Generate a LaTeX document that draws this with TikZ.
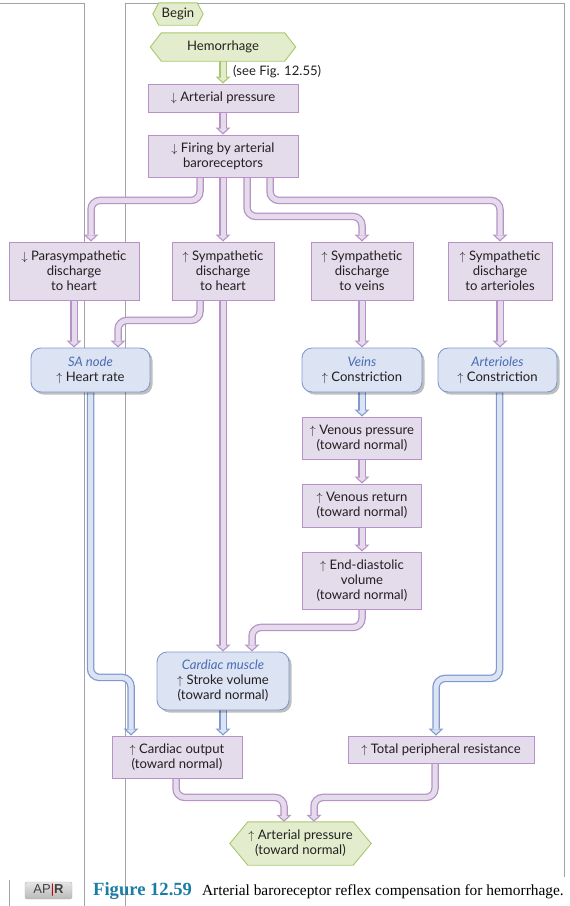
\documentclass[tikz,border=0pt]{standalone}
\usepackage{fontspec}
\setmainfont{Lato}
\newfontfamily\capfont{Liberation Serif}
\newfontfamily\badgefont{Liberation Sans}
\usetikzlibrary{positioning,calc,backgrounds,shadows,arrows.meta}

\definecolor{ink}{HTML}{231F20}
\definecolor{pfill}{HTML}{E4DBEB}
\definecolor{pedge}{HTML}{B891C8}
\definecolor{bfill}{HTML}{DCE3F3}
\definecolor{bedge}{HTML}{7F9AD2}
\definecolor{gfill}{HTML}{E3EDCD}
\definecolor{gedge}{HTML}{A9C76B}
\definecolor{organ}{HTML}{4A6CB4}
\definecolor{framegray}{HTML}{A3A3A3}
\definecolor{figblue}{HTML}{1B7DA6}

\newcommand{\incr}{$\uparrow$\hspace{3.5pt}}
\newcommand{\decr}{$\downarrow$\hspace{3.5pt}}
\newcommand{\organ}[1]{\textcolor{organ}{\itshape #1}}
\newcommand{\flowpipe}[3]{%
  \draw[pipe edge,#1] #3;
  \draw[pipe core,#2] #3;}

\tikzset{
  txt/.style={font=\fontsize{13.1}{15}\selectfont, text=ink, align=center, inner sep=0pt},
  pbox/.style={txt, draw=pedge, fill=pfill, line width=0.9pt},
  bbox/.style={txt, draw=bedge, fill=bfill, line width=0.9pt, rounded corners=10pt,
    drop shadow={shadow xshift=2.5pt, shadow yshift=-2.5pt, opacity=0.25, fill=black}},
  hexline/.style={draw=gedge, fill=gfill, line width=0.9pt},
  frameline/.style={draw=framegray, line width=0.9pt},
  pipe edge/.style={line width=7.5pt, rounded corners=9pt,
    -{Triangle[width=15pt,length=7pt,line width=0pt]}},
  pipe core/.style={line width=5pt, rounded corners=9pt, shorten >=1.7pt,
    -{Triangle[width=9pt,length=4.2pt,line width=0pt]}},
  badge/.style={rounded corners=2pt, top color=gray!20, bottom color=gray!55, draw=gray!60,
    minimum width=47pt, minimum height=17pt, inner sep=0pt, text=ink!85,
    font=\badgefont\fontsize{13}{13}\selectfont}
}

\begin{document}
\begin{tikzpicture}[x=1pt,y=-1pt]
        \useasboundingbox (0,0) rectangle (570,906);
        \node[txt, minimum width=50pt, minimum height=22pt] (begin) at (178,14) {Begin};
        \node[txt, minimum width=145pt, minimum height=28pt] (hem) at (223,47) {Hemorrhage};
        \node[txt, anchor=west] (seefig) at (233,72) {(see Fig. 12.55)};
        \node[pbox, minimum width=150pt, minimum height=28pt] (ap) at (223,98) {\decr Arterial pressure};
        \node[pbox, minimum width=150pt, minimum height=42pt] (fire) at (223,156) {\decr Firing by arterial\\baroreceptors};
        \node[pbox, minimum width=130pt, minimum height=58pt] (para) at (74,271) {\decr Parasympathetic\\discharge\\to heart};
        \node[pbox, minimum width=102pt, minimum height=58pt] (shrt) at (223,271) {\incr Sympathetic\\discharge\\to heart};
        \node[pbox, minimum width=102pt, minimum height=58pt] (sveins) at (362,271) {\incr Sympathetic\\discharge\\to veins};
        \node[pbox, minimum width=104pt, minimum height=58pt] (sart) at (500,271) {\incr Sympathetic\\discharge\\to arterioles};
        \node[bbox, minimum width=119pt, minimum height=44pt] (sa) at (90.5,370) {\organ{SA node}\\\incr Heart rate};
        \node[bbox, minimum width=120pt, minimum height=44pt] (veins) at (362,370) {\organ{Veins}\\\incr Constriction};
        \node[bbox, minimum width=119pt, minimum height=44pt] (arts) at (497.5,370) {\organ{Arterioles}\\\incr Constriction};
        \node[pbox, minimum width=119pt, minimum height=42pt] (vp) at (362,438) {\incr Venous pressure\\(toward normal)};
        \node[pbox, minimum width=119pt, minimum height=43pt] (vr) at (362,505.5) {\incr Venous return\\(toward normal)};
        \node[pbox, minimum width=119pt, minimum height=57pt] (edv) at (362,580.5) {\incr End-diastolic\\volume\\(toward normal)};
        \node[bbox, minimum width=132pt, minimum height=58pt] (cm) at (223,681) {\organ{Cardiac muscle}\\\incr Stroke volume\\(toward normal)};
        \node[pbox, minimum width=130pt, minimum height=42pt] (co) at (177,757) {\incr Cardiac output\\(toward normal)};
        \node[pbox, minimum width=186pt, minimum height=27pt] (tpr) at (441,749.5) {\incr Total peripheral resistance};
        \node[txt, minimum width=141pt, minimum height=43pt] (apn) at (300.5,843.5) {\incr Arterial pressure\\(toward normal)};
        % caption of the page
        \node[badge] (apr) at (48.5,890.5) {AP\textcolor{red!75!black}{|}\textbf{R}};
        \node[anchor=base west, inner sep=0pt, font=\capfont\fontsize{15.4}{18}\selectfont] (cap) at (93,895)
            {\textcolor{figblue}{\fontsize{18.6}{20}\selectfont\bfseries Figure 12.59}\hspace{10pt}Arterial baroreceptor reflex compensation for hemorrhage.};
        \begin{scope}[on background layer]
            \draw[frameline] (0,3) -- (84,3) -- (84,906);
            \draw[frameline] (125,906) -- (125,3) -- (564,3) -- (564,877);
            \draw[frameline] (9,880) -- (9,906);
            % flows
            \flowpipe{gedge}{gfill}{(hem.south) -- (ap.north)}
            \flowpipe{pedge}{pfill}{(ap.south) -- (fire.north)}
            \flowpipe{pedge}{pfill}{($(fire.south)+(-23,0)$) -- ++(0,23) -| ($(para.north)+(17,0)$)}
            \flowpipe{pedge}{pfill}{(fire.south) -- (shrt.north)}
            \flowpipe{pedge}{pfill}{($(fire.south)+(24,0)$) -- ++(0,39) -| (sveins.north)}
            \flowpipe{pedge}{pfill}{($(fire.south)+(47,0)$) -- ++(0,23) -| (sart.north)}
            \flowpipe{pedge}{pfill}{(para.south) -- (para.south |- sa.north)}
            \flowpipe{pedge}{pfill}{($(shrt.south)+(-23,0)$) -- ++(0,20) -| ($(sa.north)+(27.5,0)$)}
            \flowpipe{pedge}{pfill}{(shrt.south) -- (cm.north)}
            \flowpipe{pedge}{pfill}{(sveins.south) -- (veins.north)}
            \flowpipe{pedge}{pfill}{(sart.south) -- (sart.south |- arts.north)}
            \flowpipe{bedge}{bfill}{(veins.south) -- (vp.north)}
            \flowpipe{pedge}{pfill}{(vp.south) -- (vr.north)}
            \flowpipe{pedge}{pfill}{(vr.south) -- (edv.north)}
            \flowpipe{pedge}{pfill}{(edv.south) -- ++(0,18) -| ($(cm.north)+(29,0)$)}
            \flowpipe{bedge}{bfill}{(sa.south) -- ++(0,285) -| ($(co.north)+(-46,0)$)}
            \flowpipe{bedge}{bfill}{(cm.south) -- (cm.south |- co.north)}
            \flowpipe{bedge}{bfill}{($(arts.south)+(2,0)$) -- ++(0,286) -| ($(tpr.north)+(-5,0)$)}
            \flowpipe{pedge}{pfill}{($(co.south)+(-1,0)$) -- ++(0,19) -| ($(apn.north)+(-16.5,0)$)}
            \flowpipe{pedge}{pfill}{($(tpr.south)+(-6,0)$) -- ++(0,34) -| ($(apn.north)+(13.5,0)$)}
            % hexagons
            \foreach \n/\d in {begin/6,hem/11,apn/18}
                \filldraw[hexline] (\n.west) -- ([xshift=\d pt]\n.north west) -- ([xshift=-\d pt]\n.north east)
                    -- (\n.east) -- ([xshift=-\d pt]\n.south east) -- ([xshift=\d pt]\n.south west) -- cycle;
        \end{scope}
    \end{tikzpicture}
\end{document}
